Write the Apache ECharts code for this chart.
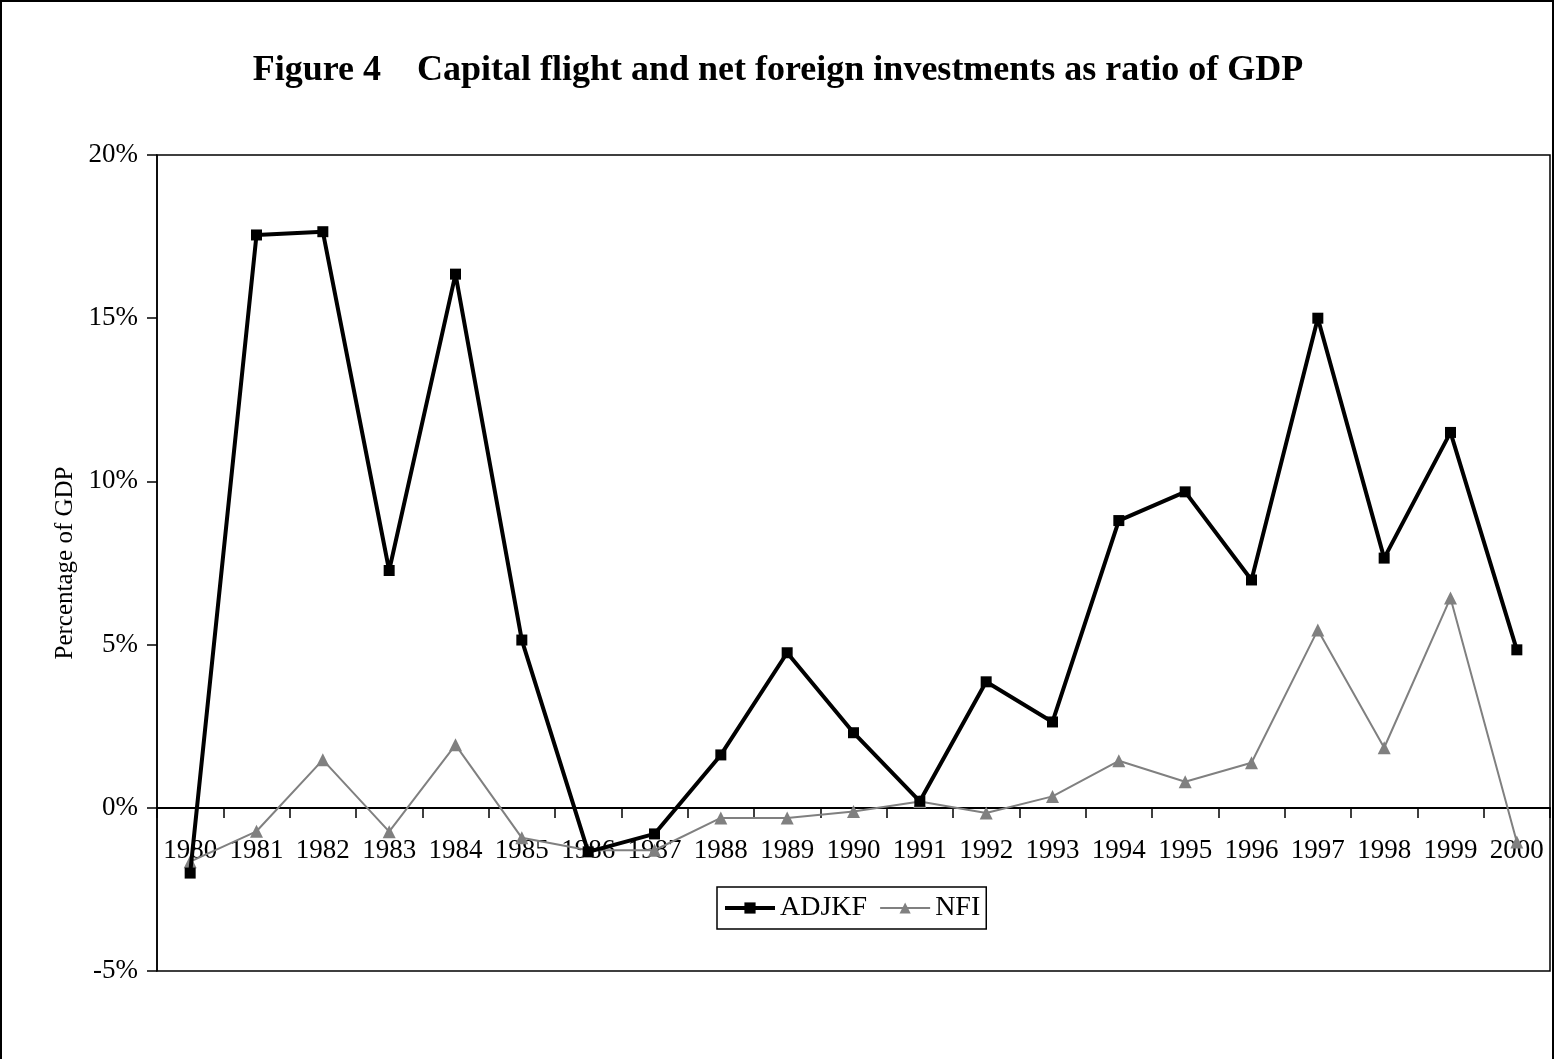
<!DOCTYPE html>
<html>
<head>
<meta charset="utf-8">
<script src="https://cdn.jsdelivr.net/npm/echarts@6/dist/echarts.min.js"></script>
<style>
html,body{margin:0;padding:0;background:#fff;}
#chart{width:1556px;height:1059px;}
</style>
</head>
<body>
<div id="chart"></div>
<script>
const years = ['1980','1981','1982','1983','1984','1985','1986','1987','1988','1989','1990','1991','1992','1993','1994','1995','1996','1997','1998','1999','2000'];
const adjkf = [-2.0, 17.55, 17.65, 7.27, 16.35, 5.14, -1.35, -0.8, 1.62, 4.75, 2.3, 0.2, 3.86, 2.63, 8.8, 9.68, 6.98, 15.0, 7.65, 11.5, 4.84];
const nfi = [-1.65, -0.72, 1.47, -0.73, 1.93, -0.92, -1.3, -1.3, -0.31, -0.31, -0.11, 0.19, -0.16, 0.35, 1.44, 0.8, 1.38, 5.45, 1.84, 6.43, -1.05];
const yTicks = {min: -5, max: 20, interval: 5};

const font = '"Liberation Serif", "Times New Roman", serif';
const chart = echarts.init(document.getElementById('chart'));
chart.setOption({
  backgroundColor: '#fff',
  animation: false,
  title: {
    text: 'Figure 4    Capital flight and net foreign investments as ratio of GDP',
    left: 'center',
    top: 48,
    textStyle: {fontFamily: font, fontSize: 36, fontWeight: 'bold', color: '#000'}
  },
  graphic: [{
    type: 'rect',
    shape: {x: 1, y: 1, width: 1552, height: 1080},
    style: {fill: 'none', stroke: '#000', lineWidth: 2}
  }],
  grid: {left: 157, right: 6, top: 155, bottom: 88, show: true, borderColor: '#000', borderWidth: 1.5, backgroundColor: 'transparent'},
  legend: {
    data: [
      {name: 'ADJKF', lineStyle: {width: 4, color: '#000'}},
      {name: 'NFI', lineStyle: {width: 2, color: '#808080'}}
    ],
    top: 887,
    left: 717,
    borderColor: '#000',
    borderWidth: 1.5,
    padding: [7, 6, 7, 6],
    itemWidth: 50,
    itemHeight: 14,
    itemGap: 12,
    textStyle: {fontFamily: font, fontSize: 28, color: '#000'}
  },
  xAxis: {
    type: 'category',
    data: years,
    boundaryGap: true,
    offset: -163,
    axisLine: {onZero: false, lineStyle: {color: '#000', width: 2}},
    axisTick: {show: true, length: 10, alignWithLabel: false, lineStyle: {color: '#000', width: 1.5}},
    axisLabel: {margin: 29, fontFamily: font, fontSize: 27, color: '#000', interval: 0},
    splitLine: {show: false}
  },
  yAxis: {
    type: 'value',
    min: yTicks.min, max: yTicks.max, interval: yTicks.interval,
    name: 'Percentage of GDP',
    nameLocation: 'middle',
    nameGap: 62,
    nameTextStyle: {fontFamily: font, fontSize: 25, color: '#000'},
    axisLine: {show: true, lineStyle: {color: '#000', width: 1.5}},
    axisTick: {show: true, length: 10, lineStyle: {color: '#000', width: 1.5}},
    axisLabel: {margin: 19, fontFamily: font, fontSize: 27, color: '#000', formatter: '{value}%'},
    splitLine: {show: false}
  },
  series: [
    {
      name: 'ADJKF', type: 'line', data: adjkf,
      symbol: 'rect', symbolSize: 11,
      lineStyle: {color: '#000', width: 4},
      itemStyle: {color: '#000'},
      z: 3
    },
    {
      name: 'NFI', type: 'line', data: nfi,
      symbol: 'triangle', symbolSize: 13,
      lineStyle: {color: '#808080', width: 2},
      itemStyle: {color: '#808080'},
      z: 2
    }
  ]
});
</script>
</body>
</html>
